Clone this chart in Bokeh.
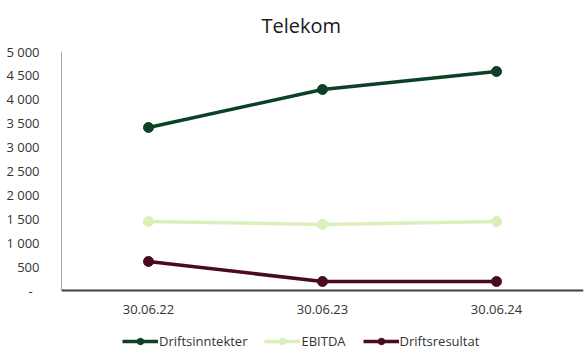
from bokeh.plotting import figure
from bokeh.models import FactorRange, Range1d, FixedTicker, Legend, LegendItem, Span
from bokeh.core.properties import value
from bokeh.embed import file_html
from bokeh.resources import INLINE

categories = ["30.06.22", "30.06.23", "30.06.24"]
driftsinntekter = [3410, 4205, 4582]
ebitda = [1444, 1381, 1444]
driftsresultat = [607, 188, 188]
y_ticks = [0, 500, 1000, 1500, 2000, 2500, 3000, 3500, 4000, 4500, 5000]

series = [
    ("Driftsinntekter", driftsinntekter, "#0b4226"),
    ("EBITDA", ebitda, "#d9f0bb"),
    ("Driftsresultat", driftsresultat, "#4a0b1e"),
]

FONT = "Open Sans"
Y_MAX = 5000
# frame: top at 51 px, value 0 at 290 px, frame bottom at 350 px (room for x labels + legend)
y_low = -Y_MAX * (350 - 290) / (290 - 51)

p = figure(width=585, height=350, x_range=FactorRange(*categories),
           y_range=Range1d(y_low, Y_MAX), output_backend="svg",
           toolbar_location=None, title="Telekom", x_axis_location=None)
p.min_border_left = 61
p.min_border_right = 2
p.min_border_top = 0
p.min_border_bottom = 0
p.outline_line_color = None
p.xgrid.visible = False
p.ygrid.visible = False

p.title.align = "left"
p.title.offset = 200
p.title.vertical_align = "top"
p.title.text_font = FONT
p.title.text_font_size = "20px"
p.title.text_font_style = "normal"
p.title.text_color = "#1a1a1a"
p.title.standoff = 22

yax = p.yaxis[0]
yax.ticker = FixedTicker(ticks=y_ticks)
yax.bounds = (0, Y_MAX)
overrides = {}
for t in y_ticks:
    overrides[t] = "-  " if t == 0 else f"{t:,}".replace(",", " ")
yax.major_label_overrides = overrides
yax.axis_line_color = "#a6a6a6"
yax.axis_line_width = 1
yax.major_tick_line_color = None
yax.minor_tick_line_color = None
yax.major_label_text_font = FONT
yax.major_label_text_font_size = "13px"
yax.major_label_text_color = "#333333"
yax.major_label_standoff = 16

# category axis: baseline line at 0 and labels under it
p.add_layout(Span(location=0, dimension="width", line_color="#404040", line_width=2))
p.text(x=categories, y=[0] * len(categories), text=categories,
       text_font=value(FONT), text_font_size="13px", text_color="#333333",
       text_align="center", text_baseline="top", y_offset=14)

items = []
for name, vals, color in series:
    r1 = p.line(categories, vals, line_color=color, line_width=3.5)
    r2 = p.scatter(categories, vals, size=10, fill_color=color, line_color=color)
    items.append(LegendItem(label=name, renderers=[r1, r2]))

legend = Legend(items=items, orientation="horizontal", location=(61, 0),
                label_text_font=FONT, label_text_font_size="13px",
                label_text_color="#333333", border_line_color=None,
                background_fill_alpha=0,
                glyph_width=36, glyph_height=16, label_height=16,
                spacing=17, padding=0, margin=0, label_standoff=1)
p.add_layout(legend)

open("out.html", "w").write(file_html(p, INLINE))
